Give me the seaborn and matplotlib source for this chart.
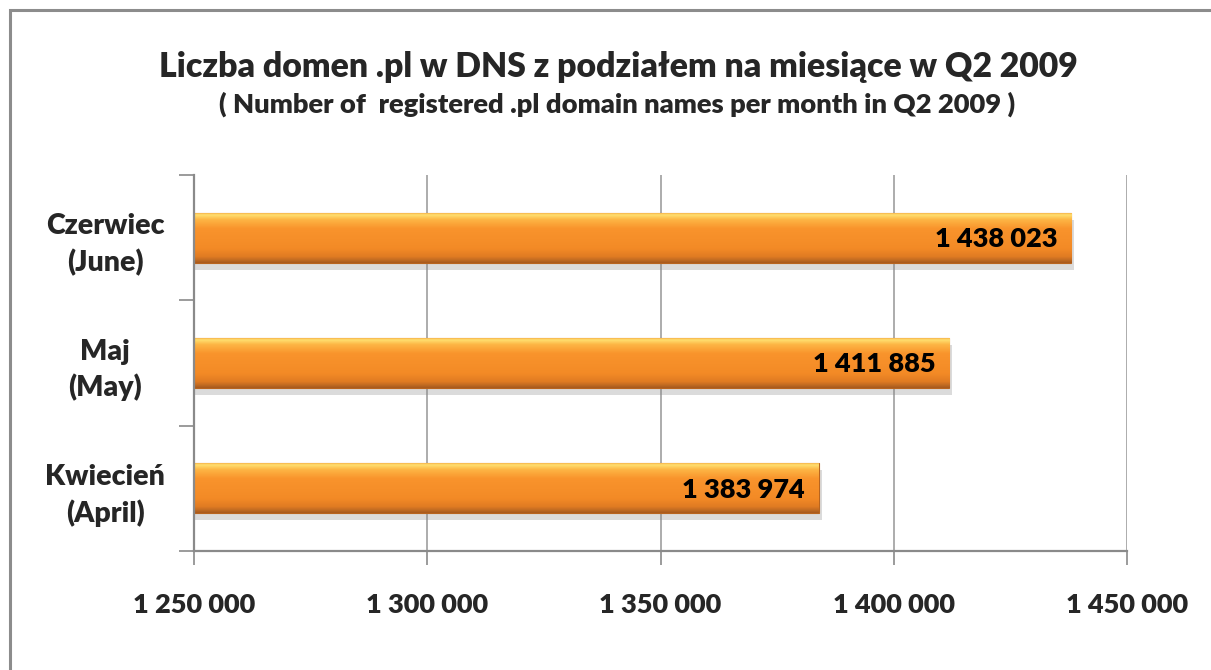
import numpy as np
import matplotlib
matplotlib.use("Agg")
import matplotlib.pyplot as plt
import matplotlib.patheffects as pe
from matplotlib.colors import LinearSegmentedColormap
from matplotlib.patches import Rectangle
import pandas as pd
import seaborn as sns

# values
months = ["Czerwiec\n(June)", "Maj\n(May)", "Kwiecień\n(April)"]
domains = [1438023, 1411885, 1383974]
x_ticks = [1250000, 1300000, 1350000, 1400000, 1450000]

title = "Liczba domen .pl w DNS z podziałem na miesiące w Q2 2009"
subtitle = "( Number of  registered .pl domain names per month in Q2 2009 )"


def fmt(v):
    return f"{v:,}".replace(",", " ")


sns.set_theme(style="white")
plt.rcParams['font.family'] = ['Lato', 'DejaVu Sans']
WT = "heavy"

W, H = 1211, 670
fig = plt.figure(figsize=(W / 100, H / 100), dpi=100)
fig.patch.set_facecolor("white")
ax = fig.add_axes([194 / W, 1 - 551 / H, (1127 - 194) / W, (551 - 175) / H])

df = pd.DataFrame({"month": months, "domains": domains})
sns.barplot(data=df, x="domains", y="month", order=months, orient="h",
            width=0.4, color="#F7922E", ax=ax, zorder=3)

# vertical orange gradient + soft shadow on each bar
grad = LinearSegmentedColormap.from_list("bar", [
    (0.00, "#F3A23C"), (0.05, "#FFE070"), (0.14, "#FDB645"),
    (0.32, "#F9942C"), (0.72, "#F38A26"), (0.88, "#E07B22"),
    (0.95, "#BF6A22"), (1.00, "#A85A1E")])
g = np.linspace(0, 1, 100).reshape(-1, 1)
xmin = x_ticks[0]
for p in ax.patches:
    p.set_path_effects([pe.SimplePatchShadow(offset=(2, -5), shadow_rgbFace="#888888", alpha=0.3),
                        pe.Normal()])
    p.set_edgecolor("#B8641E")
    p.set_linewidth(0.8)
    y0, h = p.get_y(), p.get_height()
    im = ax.imshow(g, cmap=grad, aspect="auto", origin="upper",
                   extent=(xmin, p.get_x() + p.get_width(), y0 + h, y0), zorder=4)
    im.set_clip_path(p)
    ax.annotate(fmt(int(p.get_x() + p.get_width())), (p.get_x() + p.get_width(), y0 + h / 2),
                xytext=(-10, -1), textcoords="offset points", ha="right", va="center",
                fontsize=19.5, fontweight=WT, color="black", zorder=5)

ax.set_xlim(x_ticks[0], x_ticks[-1])
ax.set_ylim(2.5, -0.5)
ax.set_xlabel("")
ax.set_ylabel("")

ax.set_xticks(x_ticks)
ax.set_xticklabels([fmt(v) for v in x_ticks], fontsize=19.5, fontweight=WT)
ax.tick_params(axis="x", direction="out", length=10, width=1.2, color="#8a8a8a", pad=20, bottom=True)

ax.set_yticks(range(len(months)))
ax.set_yticklabels(months, fontsize=20.5, fontweight=WT, ha="center", linespacing=1.4)
ax.set_yticks([-0.5, 0.5, 1.5, 2.5], minor=True)
ax.tick_params(axis="y", which="major", length=0, pad=64)
ax.tick_params(axis="y", which="minor", direction="out", length=11, width=1.2, color="#8a8a8a", left=True)

ax.xaxis.grid(True, color="#a6a6a6", linewidth=1.3)
ax.yaxis.grid(False)
ax.set_axisbelow(True)
for s in ["top", "right"]:
    ax.spines[s].set_visible(False)
for s in ["left", "bottom"]:
    ax.spines[s].set_color("#8a8a8a")
    ax.spines[s].set_linewidth(1.6)
    ax.spines[s].set_zorder(6)

fig.text(618 / W, 1 - 67 / H, title, ha="center", va="center", fontsize=24.3, fontweight=WT)
fig.text(617 / W, 1 - 104 / H, subtitle, ha="center", va="center", fontsize=19.7, fontweight=WT)

# outer chart border (cut off at right and bottom like the reference)
fig.add_artist(Rectangle((10 / W, -0.1), 1.2, 1.1 - 10 / H, transform=fig.transFigure,
                         fill=False, edgecolor="#8c8c8c", linewidth=2.2))

fig.savefig("out.png", dpi=100)
